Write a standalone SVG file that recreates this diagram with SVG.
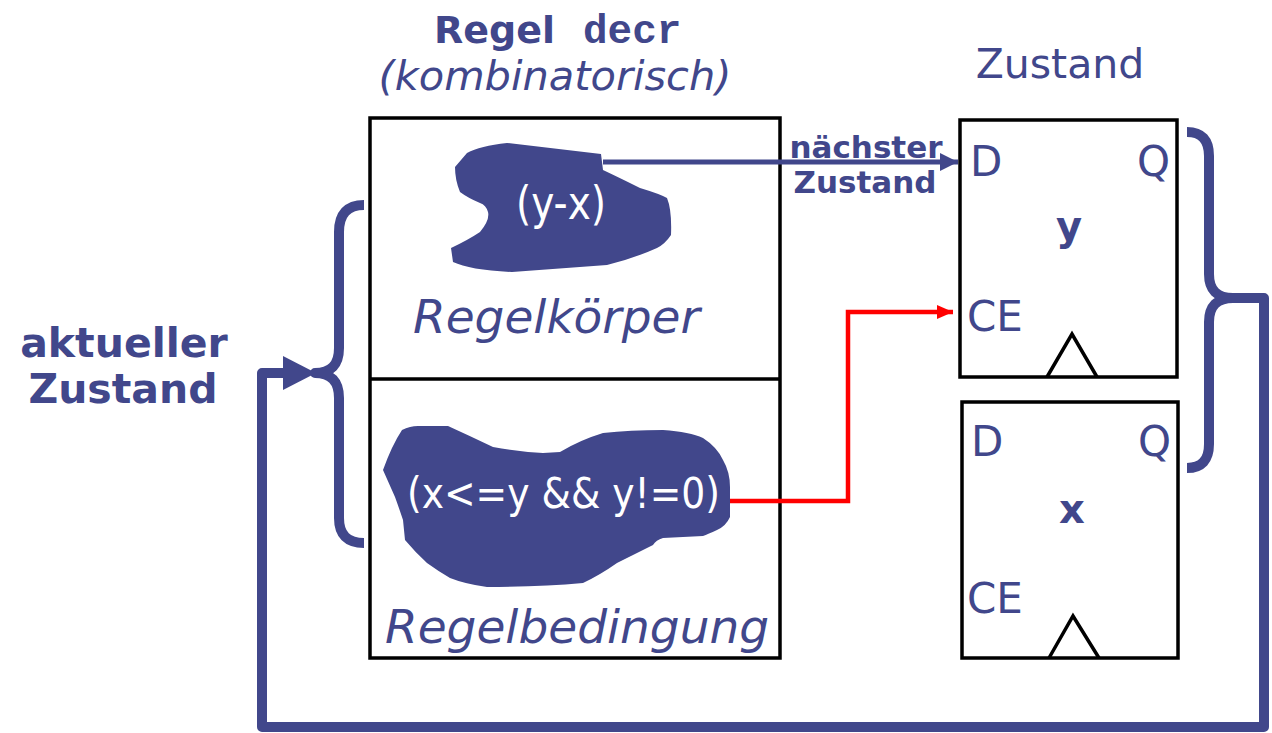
<svg xmlns="http://www.w3.org/2000/svg" width="1272" height="733" viewBox="0 0 1272 733">
<style>
.b{fill:#41478b}
.t{font-family:"DejaVu Sans",Verdana,sans-serif;fill:#41478b}
.w{font-family:"DejaVu Sans Condensed","DejaVu Sans",sans-serif;fill:#ffffff}
.p{font-size:42px}
.bold{font-weight:bold}
.it{font-style:italic}
.box{fill:none;stroke:#000;stroke-width:3.5}
.wire{fill:none;stroke:#41478b;stroke-width:10;stroke-linejoin:round}
</style>
<defs>
<marker id="ab" markerUnits="userSpaceOnUse" markerWidth="20" markerHeight="18" refX="18" refY="9" orient="auto"><path d="M0,0 L18,9 L0,18 Z" fill="#41478b"/></marker>
<marker id="ar" markerUnits="userSpaceOnUse" markerWidth="18" markerHeight="14" refX="16" refY="7" orient="auto"><path d="M0,0 L16,7 L0,14 Z" fill="#ff0000"/></marker>
</defs>
<g id="title">
<text class="t bold" x="434" y="43" font-size="38">Regel</text>
<text x="583" y="43" font-family="'Liberation Mono','Courier New',monospace" font-weight="bold" font-size="41" fill="#41478b">decr</text>
<text class="t it" x="555" y="90" font-size="41.5" text-anchor="middle">(kombinatorisch)</text>
</g>
<g id="regel">
<rect class="box" x="370" y="118" width="410" height="540"/>
<line x1="370" y1="379" x2="780" y2="379" stroke="#000" stroke-width="3.5"/>
<text class="t it" x="413" y="333" font-size="47">Regelkörper</text>
<text class="t it" x="385" y="643" font-size="47">Regelbedingung</text>
</g>
<g id="blob-body">
<path class="b" d="M467,153 Q480,146 507,143 L601,154 L603,170 Q620,178 640,188 Q660,194 667,198 Q672,210 671,235 Q665,244 657,248 Q635,258 607,265 L512,272 Q470,270 453,262 L451,248 Q468,240 480,232 Q490,220 488,212 Q486,205 480,203 Q468,198 460,192 Q455,180 455,167 Z"/>
<text class="w" x="516" y="219" font-size="47" textLength="90" lengthAdjust="spacingAndGlyphs">(y-x)</text>
</g>
<g id="blob-cond">
<path class="b" d="M383,470 Q392,445 402,430 Q410,426 418,426 L448,426 Q470,436 493,447 Q520,452 543,453 L560,452 Q580,440 603,433 Q630,430 663,430 Q690,432 703,438 Q717,447 723,460 Q730,472 730,487 L730,517 Q726,526 717,530 Q708,534 703,536 L663,538 Q656,540 653,545 Q635,554 617,563 Q600,575 583,583 Q540,587 487,587 Q465,584 450,578 Q438,571 427,563 Q415,552 405,540 L403,520 Q399,508 395,497 Z"/>
<text class="w" x="407" y="508" font-size="42" textLength="313" lengthAdjust="spacingAndGlyphs">(x&lt;=y &amp;&amp; y!=0)</text>
</g>
<g id="ff-y">
<rect class="box" x="960" y="120" width="217" height="257"/>
<polyline points="1047,377 1072,334 1097,377" fill="none" stroke="#000" stroke-width="3.5"/>
<text class="t p" x="970" y="176">D</text>
<text class="t p" x="1170" y="176" text-anchor="end">Q</text>
<text class="t p" x="967" y="331">CE</text>
<text class="t bold" x="1069" y="240" font-size="40" text-anchor="middle">y</text>
</g>
<g id="ff-x">
<rect class="box" x="962" y="402" width="216" height="256"/>
<polyline points="1049,658 1073,616 1099,658" fill="none" stroke="#000" stroke-width="3.5"/>
<text class="t p" x="971" y="456">D</text>
<text class="t p" x="1171" y="456" text-anchor="end">Q</text>
<text class="t p" x="967" y="613">CE</text>
<text class="t bold" x="1072" y="523" font-size="40" text-anchor="middle">x</text>
</g>
<g id="labels">
<text class="t" x="1060" y="78" font-size="41" text-anchor="middle">Zustand</text>
<text class="t bold" x="866" y="158" font-size="31" text-anchor="middle">nächster</text>
<text class="t bold" x="865" y="193" font-size="31" text-anchor="middle">Zustand</text>
<text class="t bold" x="124" y="357" font-size="41" text-anchor="middle">aktueller</text>
<text class="t bold" x="123" y="403" font-size="41" text-anchor="middle">Zustand</text>
</g>
<g id="connectors">
<line x1="603" y1="162" x2="958" y2="162" stroke="#41478b" stroke-width="5" marker-end="url(#ab)"/>
<polyline points="730,501 848,501 848,312 953,312" fill="none" stroke="#ff0000" stroke-width="4.5" marker-end="url(#ar)"/>
<path class="wire" d="M364,205 Q339,205 339,232 L339,348 Q339,373 315,373 Q339,373 339,398 L339,518 Q339,543 364,543"/>
<path class="wire" d="M1187,132 Q1209,132 1209,156 L1209,274 Q1209,298 1233,298 Q1209,298 1209,322 L1209,444 Q1209,468 1187,468"/>
<path class="wire" d="M1231,298 L1264,298 L1264,727 L262,727 L262,373 L286,373"/>
<path d="M283,356 L316,373 L283,390 Z" fill="#41478b"/>
</g>
</svg>
